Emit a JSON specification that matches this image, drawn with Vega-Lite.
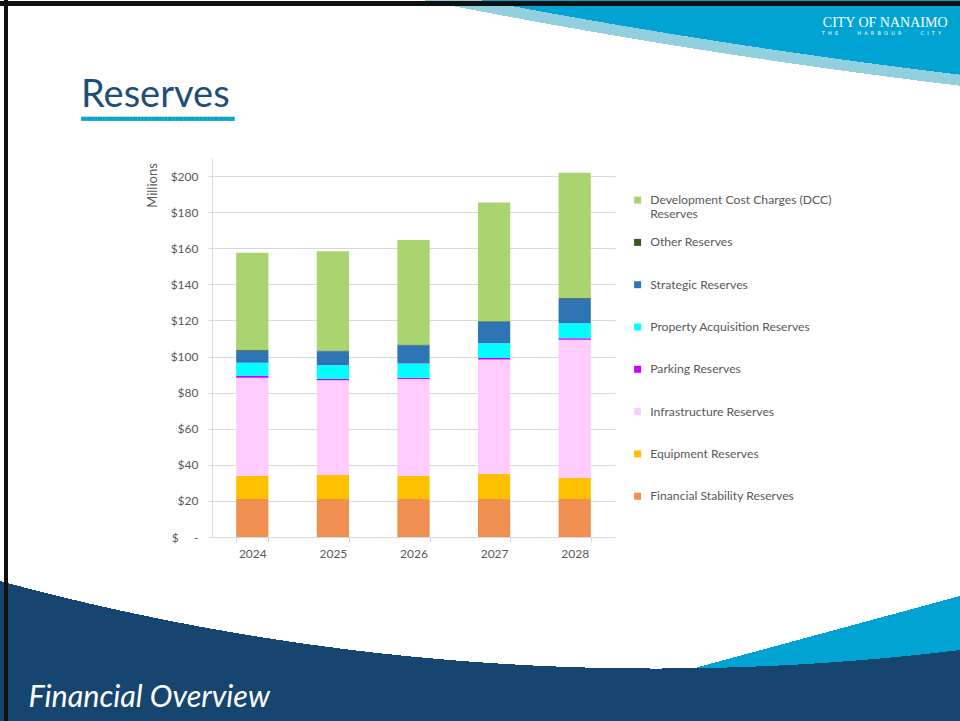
{
  "$schema": "https://vega.github.io/schema/vega-lite/v6.json",
  "width": 960,
  "height": 721,
  "autosize": "none",
  "padding": 0,
  "background": "white",
  "config": {
    "view": {"stroke": null},
    "font": "Lato",
    "axis": {"labelFont": "Lato", "titleFont": "Lato"},
    "legend": {"labelFont": "Lato"}
  },
  "title": {
    "text": "Reserves",
    "subtitle": "█████████████████████████████████████████████████████████",
    "anchor": "start",
    "frame": "group",
    "dx": 81,
    "offset": -120,
    "font": "Lato",
    "fontSize": 38,
    "fontWeight": "normal",
    "color": "#1F4E79",
    "subtitleFont": "DejaVu Sans",
    "subtitleFontSize": 3.5,
    "subtitleColor": "#00A3D1",
    "subtitlePadding": 1.4
  },
  "datasets": {
    "backdrop": [{"part": "slide"}],
    "reserves": [
      {"year": "2024", "series": "Financial Stability Reserves", "value": 21.0},
      {"year": "2024", "series": "Equipment Reserves", "value": 13.0},
      {"year": "2024", "series": "Infrastructure Reserves", "value": 54.3},
      {"year": "2024", "series": "Parking Reserves", "value": 0.9},
      {"year": "2024", "series": "Property Acquisition Reserves", "value": 7.4},
      {"year": "2024", "series": "Strategic Reserves", "value": 6.6},
      {"year": "2024", "series": "Other Reserves", "value": 0.4},
      {"year": "2024", "series": "Development Cost Charges (DCC) Reserves", "value": 53.9},
      {"year": "2025", "series": "Financial Stability Reserves", "value": 21.0},
      {"year": "2025", "series": "Equipment Reserves", "value": 13.3},
      {"year": "2025", "series": "Infrastructure Reserves", "value": 52.5},
      {"year": "2025", "series": "Parking Reserves", "value": 0.7},
      {"year": "2025", "series": "Property Acquisition Reserves", "value": 7.6},
      {"year": "2025", "series": "Strategic Reserves", "value": 7.8},
      {"year": "2025", "series": "Other Reserves", "value": 0.4},
      {"year": "2025", "series": "Development Cost Charges (DCC) Reserves", "value": 55.1},
      {"year": "2026", "series": "Financial Stability Reserves", "value": 21.0},
      {"year": "2026", "series": "Equipment Reserves", "value": 13.0},
      {"year": "2026", "series": "Infrastructure Reserves", "value": 53.5},
      {"year": "2026", "series": "Parking Reserves", "value": 0.8},
      {"year": "2026", "series": "Property Acquisition Reserves", "value": 7.9},
      {"year": "2026", "series": "Strategic Reserves", "value": 10.0},
      {"year": "2026", "series": "Other Reserves", "value": 0.4},
      {"year": "2026", "series": "Development Cost Charges (DCC) Reserves", "value": 57.9},
      {"year": "2027", "series": "Financial Stability Reserves", "value": 21.0},
      {"year": "2027", "series": "Equipment Reserves", "value": 14.1},
      {"year": "2027", "series": "Infrastructure Reserves", "value": 63.3},
      {"year": "2027", "series": "Parking Reserves", "value": 0.8},
      {"year": "2027", "series": "Property Acquisition Reserves", "value": 8.1},
      {"year": "2027", "series": "Strategic Reserves", "value": 11.8},
      {"year": "2027", "series": "Other Reserves", "value": 0.4},
      {"year": "2027", "series": "Development Cost Charges (DCC) Reserves", "value": 65.9},
      {"year": "2028", "series": "Financial Stability Reserves", "value": 21.0},
      {"year": "2028", "series": "Equipment Reserves", "value": 11.7},
      {"year": "2028", "series": "Infrastructure Reserves", "value": 76.6},
      {"year": "2028", "series": "Parking Reserves", "value": 0.8},
      {"year": "2028", "series": "Property Acquisition Reserves", "value": 8.3},
      {"year": "2028", "series": "Strategic Reserves", "value": 13.6},
      {"year": "2028", "series": "Other Reserves", "value": 0.4},
      {"year": "2028", "series": "Development Cost Charges (DCC) Reserves", "value": 69.4}
    ]
  },
  "layer": [
    {
      "data": {"name": "backdrop"},
      "mark": {
        "type": "rect",
        "opacity": 1,
        "strokeWidth": 0,
        "fill": {
          "gradient": "linear",
          "x1": 0.70833, "y1": 0.93204, "x2": 0.81374, "y2": 1.22371,
          "stops": [
            {"offset": 0, "color": "rgba(0,163,209,0)"},
            {"offset": 0, "color": "#00A3D1"},
            {"offset": 1, "color": "#00A3D1"}
          ]
        }
      },
      "encoding": {}
    },
    {
      "data": {"name": "backdrop"},
      "mark": {
        "type": "rect",
        "opacity": 1,
        "strokeWidth": 0,
        "fill": {
          "gradient": "radial",
          "x1": 1.875, "y1": -7.07344, "r1": 0,
          "x2": 1.875, "y2": -7.07344, "r2": 7.5,
          "stops": [
            {"offset": 0, "color": "#00A3D1"},
            {"offset": 0.977083, "color": "#00A3D1"},
            {"offset": 0.977083, "color": "#92CFDF"},
            {"offset": 0.978611, "color": "#92CFDF"},
            {"offset": 0.978611, "color": "rgba(255,255,255,0)"},
            {"offset": 1, "color": "rgba(255,255,255,0)"}
          ]
        }
      },
      "encoding": {}
    },
    {
      "data": {"name": "backdrop"},
      "mark": {
        "type": "rect",
        "opacity": 1,
        "strokeWidth": 0,
        "fill": {
          "gradient": "radial",
          "x1": 0.68344, "y1": -1.78646, "r1": 0,
          "x2": 0.68344, "y2": -1.78646, "r2": 3,
          "stops": [
            {"offset": 0, "color": "rgba(255,255,255,0)"},
            {"offset": 0.8691, "color": "rgba(255,255,255,0)"},
            {"offset": 0.8691, "color": "#164670"},
            {"offset": 1, "color": "#164670"}
          ]
        }
      },
      "encoding": {}
    },
    {
      "data": {"name": "backdrop"},
      "mark": {
        "type": "rect",
        "opacity": 1,
        "strokeWidth": 0,
        "fill": {
          "gradient": "linear",
          "x1": 0, "y1": 0, "x2": 1, "y2": 0,
          "stops": [
            {"offset": 0, "color": "rgba(0,0,0,0)"},
            {"offset": 0.0042, "color": "rgba(0,0,0,0)"},
            {"offset": 0.0042, "color": "#111111"},
            {"offset": 0.0083, "color": "#111111"},
            {"offset": 0.0083, "color": "rgba(0,0,0,0)"},
            {"offset": 1, "color": "rgba(0,0,0,0)"}
          ]
        }
      },
      "encoding": {}
    },
    {
      "data": {"name": "backdrop"},
      "mark": {
        "type": "rect",
        "opacity": 1,
        "strokeWidth": 0,
        "fill": {
          "gradient": "linear",
          "x1": 0, "y1": 0, "x2": 0, "y2": 1,
          "stops": [
            {"offset": 0, "color": "rgba(0,0,0,0)"},
            {"offset": 0.0014, "color": "rgba(0,0,0,0)"},
            {"offset": 0.0014, "color": "#111111"},
            {"offset": 0.0083, "color": "#111111"},
            {"offset": 0.0083, "color": "rgba(0,0,0,0)"},
            {"offset": 1, "color": "rgba(0,0,0,0)"}
          ]
        }
      },
      "encoding": {}
    },
    {
      "data": {"name": "reserves"},
      "transform": [
        {
          "calculate": "indexof(['Financial Stability Reserves', 'Equipment Reserves', 'Infrastructure Reserves', 'Parking Reserves', 'Property Acquisition Reserves', 'Strategic Reserves', 'Other Reserves', 'Development Cost Charges (DCC) Reserves'], datum.series)",
          "as": "stackOrder"
        }
      ],
      "mark": {"type": "bar", "strokeWidth": 0},
      "encoding": {
        "x": {
          "field": "year",
          "type": "nominal",
          "scale": {"range": [212, 615], "paddingInner": 0.6, "paddingOuter": 0.3},
          "axis": {
            "orient": "bottom",
            "offset": -184,
            "zindex": 1,
            "grid": false,
            "labelAngle": 0,
            "labelFontSize": 12,
            "labelColor": "#595959",
            "labelPadding": 6,
            "tickSize": 5,
            "tickColor": "#D9D9D9",
            "domainColor": "#D9D9D9",
            "tickBand": "extent",
            "title": "Financial Overview",
            "titleX": 28,
            "titleY": 169,
            "titleAngle": 0,
            "titleAlign": "left",
            "titleBaseline": "alphabetic",
            "titleFontSize": 30.5,
            "titleFontStyle": "italic",
            "titleFontWeight": "normal",
            "titleColor": "white"
          }
        },
        "y": {
          "field": "value",
          "type": "quantitative",
          "stack": "zero",
          "scale": {"domain": [0, 210], "range": [537, 158], "nice": false, "zero": true},
          "axis": {
            "orient": "left",
            "offset": -212,
            "values": [0, 20, 40, 60, 80, 100, 120, 140, 160, 180, 200],
            "labelExpr": "datum.value === 0 ? '$\u00a0\u00a0\u00a0\u00a0\u00a0-' : '$' + datum.value",
            "labelFontSize": 12,
            "labelColor": "#595959",
            "labelPadding": 10,
            "tickSize": 4,
            "tickColor": "#D9D9D9",
            "domainColor": "#D9D9D9",
            "grid": true,
            "gridColor": "#D9D9D9",
            "title": "Millions",
            "titleX": -60,
            "titleY": 185,
            "titleAngle": 270,
            "titleAlign": "center",
            "titleBaseline": "middle",
            "titleFontSize": 13,
            "titleFontWeight": "normal",
            "titleColor": "#595959"
          }
        },
        "order": {"field": "stackOrder", "type": "quantitative", "sort": "ascending"},
        "color": {
          "field": "series",
          "type": "nominal",
          "scale": {
            "domain": [
              "Financial Stability Reserves",
              "Equipment Reserves",
              "Infrastructure Reserves",
              "Parking Reserves",
              "Property Acquisition Reserves",
              "Strategic Reserves",
              "Other Reserves",
              "Development Cost Charges (DCC) Reserves"
            ],
            "range": ["#F09050", "#FFC000", "#FFCCFF", "#CC00FF", "#00FFFF", "#2E75B6", "#375623", "#A9D470"]
          },
          "legend": {
            "orient": "none",
            "legendX": 631.5,
            "legendY": 194,
            "title": null,
            "values": [
              "Development Cost Charges (DCC) Reserves",
              "Other Reserves",
              "Strategic Reserves",
              "Property Acquisition Reserves",
              "Parking Reserves",
              "Infrastructure Reserves",
              "Equipment Reserves",
              "Financial Stability Reserves"
            ],
            "labelExpr": "datum.label === 'Development Cost Charges (DCC) Reserves' ? ['Development Cost Charges (DCC)', 'Reserves'] : datum.label",
            "symbolType": "square",
            "symbolSize": 49,
            "symbolStrokeWidth": 0,
            "labelFontSize": 12.2,
            "labelColor": "#595959",
            "labelOffset": 6.5,
            "labelLimit": 300,
            "gridAlign": "all",
            "rowPadding": 15.3
          }
        }
      }
    },
    {
      "data": {"name": "reserves"},
      "transform": [{"filter": "false"}],
      "mark": "bar",
      "encoding": {
        "x": {
          "field": "year",
          "type": "nominal",
          "axis": {
            "orient": "top",
            "offset": 0,
            "zindex": 2,
            "domain": false,
            "ticks": false,
            "labels": false,
            "grid": false,
            "title": "T\u00a0\u00a0H\u00a0\u00a0E\u00a0\u00a0\u00a0\u00a0\u00a0\u00a0\u00a0\u00a0\u00a0\u00a0\u00a0\u00a0H\u00a0\u00a0A\u00a0\u00a0R\u00a0\u00a0B\u00a0\u00a0O\u00a0\u00a0U\u00a0\u00a0R\u00a0\u00a0\u00a0\u00a0\u00a0\u00a0\u00a0\u00a0\u00a0\u00a0\u00a0\u00a0C\u00a0\u00a0I\u00a0\u00a0T\u00a0\u00a0Y",
            "titleX": 881,
            "titleY": 34,
            "titleAngle": 0,
            "titleAlign": "center",
            "titleBaseline": "alphabetic",
            "titleFont": "DejaVu Sans",
            "titleFontSize": 5,
            "titleFontWeight": "normal",
            "titleColor": "white"
          }
        },
        "y": {
          "field": "value",
          "type": "quantitative",
          "scale": {"domain": [0, 210]},
          "axis": {
            "orient": "right",
            "offset": 0,
            "zindex": 2,
            "domain": false,
            "ticks": false,
            "labels": false,
            "grid": false,
            "title": "CITY OF NANAIMO",
            "titleX": -13,
            "titleY": 26,
            "titleAngle": 0,
            "titleAlign": "right",
            "titleBaseline": "alphabetic",
            "titleFont": "Liberation Serif",
            "titleFontSize": 14,
            "titleFontWeight": "normal",
            "titleColor": "white"
          }
        }
      }
    }
  ],
  "resolve": {"axis": {"x": "independent", "y": "independent"}}
}
